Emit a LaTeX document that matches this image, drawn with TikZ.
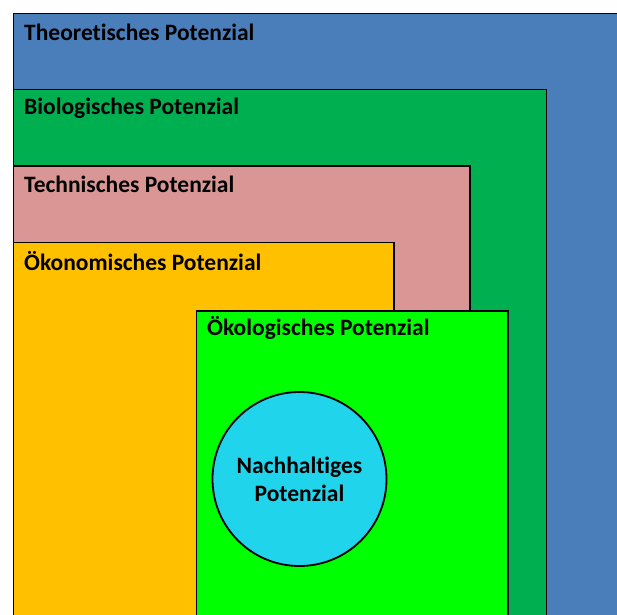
\documentclass[tikz,border=0pt]{standalone}
\usepackage{fontspec}
\setmainfont[Ligatures={NoCommon}]{Carlito}
\definecolor{theoblue}{HTML}{4A7EBB}
\definecolor{biogreen}{HTML}{00B050}
\definecolor{techpink}{HTML}{D99694}
\definecolor{econorange}{HTML}{FFC000}
\definecolor{ecolime}{HTML}{00FF00}
\definecolor{sustcyan}{HTML}{20D4EC}
\tikzset{
	area/.style={draw=black,line width=1.8pt},
	arealabel/.style={anchor=west,inner sep=0pt,font=\bfseries\fontsize{23.5}{26}\selectfont},
}
\begin{document}
\begin{tikzpicture}[x=1pt,y=-1pt]
	\useasboundingbox (0,0) rectangle (617,614);
	\clip (0,0) rectangle (617,614);
	\begin{scope}
	\filldraw[area,fill=theoblue] (13.5,13.5) rectangle (640,640);
	\filldraw[area,fill=biogreen] (13.5,89.5) rectangle (546.5,640);
	\filldraw[area,fill=techpink] (13.5,166) rectangle (470,640);
	\filldraw[area,fill=econorange] (13.5,242.5) rectangle (394,640);
	\filldraw[area,fill=ecolime] (196.5,311) rectangle (508,640);
	\end{scope}
	\begin{scope}
	\node[arealabel] (theo) at (24,32) {Theoretisches Potenzial};
	\node[arealabel] (bio) at (24,108) {Biologisches Potenzial};
	\node[arealabel] (tech) at (24,184) {Technisches Potenzial};
	\node[arealabel] (econ) at (24,261) {Ökonomisches Potenzial};
	\node[arealabel] (eco) at (207,328) {Ökologisches Potenzial};
	\node[circle,area,fill=sustcyan,minimum size=174pt,inner sep=0pt,align=center,
		font=\bfseries\fontsize{23.5}{28}\selectfont] (sust) at (299.5,479) {Nachhaltiges\\Potenzial};
	\end{scope}
\end{tikzpicture}
\end{document}
